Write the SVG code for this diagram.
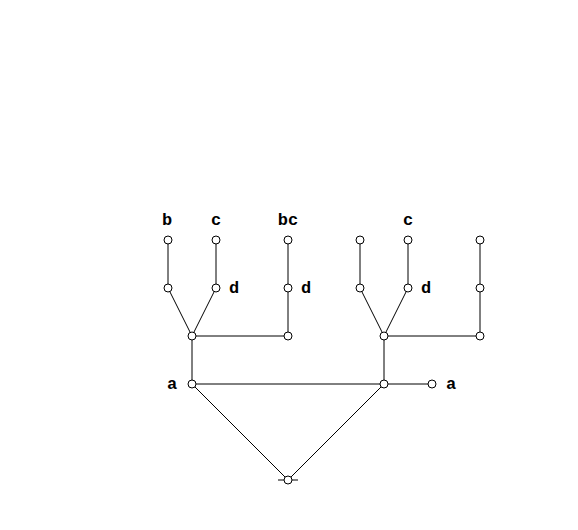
<svg xmlns="http://www.w3.org/2000/svg" width="578" height="530" viewBox="0 0 578 530">
<style>
.n{fill:#fff;stroke:#000;stroke-width:1}
.e{stroke:#000;stroke-width:1;fill:none}
.t{font-family:"Liberation Mono","Courier New",monospace;font-weight:bold;font-size:17px;fill:#000}
</style>
<rect width="578" height="530" fill="#fff"/>
<g id="connectors">
<line class="e" x1="168" y1="240" x2="168" y2="288"/>
<line class="e" x1="216" y1="240" x2="216" y2="288"/>
<line class="e" x1="168" y1="288" x2="192" y2="336"/>
<line class="e" x1="216" y1="288" x2="192" y2="336"/>
<line class="e" x1="288" y1="240" x2="288" y2="336"/>
<line class="e" x1="192" y1="336" x2="288" y2="336"/>
<line class="e" x1="192" y1="336" x2="192" y2="384"/>
<line class="e" x1="360" y1="240" x2="360" y2="288"/>
<line class="e" x1="408" y1="240" x2="408" y2="288"/>
<line class="e" x1="360" y1="288" x2="384" y2="336"/>
<line class="e" x1="408" y1="288" x2="384" y2="336"/>
<line class="e" x1="480" y1="240" x2="480" y2="336"/>
<line class="e" x1="384" y1="336" x2="480" y2="336"/>
<line class="e" x1="384" y1="336" x2="384" y2="384"/>
<line class="e" x1="192" y1="384" x2="384" y2="384"/>
<line class="e" x1="384" y1="384" x2="432" y2="384"/>
<line class="e" x1="192" y1="384" x2="288" y2="480"/>
<line class="e" x1="384" y1="384" x2="288" y2="480"/>
<line class="e" x1="278" y1="480" x2="298" y2="480"/>
</g>
<g id="n_b"><circle class="n" cx="168" cy="240" r="4"/><text class="t" x="167" y="225" text-anchor="middle">b</text></g>
<g id="n_c1"><circle class="n" cx="216" cy="240" r="4"/><text class="t" x="216" y="225" text-anchor="middle">c</text></g>
<g id="n_bc"><circle class="n" cx="288" cy="240" r="4"/><text class="t" x="288" y="225" text-anchor="middle">bc</text></g>
<g id="n_l1"><circle class="n" cx="168" cy="288" r="4"/></g>
<g id="n_d1"><circle class="n" cx="216" cy="288" r="4"/><text class="t" x="229" y="293">d</text></g>
<g id="n_d2"><circle class="n" cx="288" cy="288" r="4"/><text class="t" x="301" y="293">d</text></g>
<g id="n_h1"><circle class="n" cx="192" cy="336" r="4"/></g>
<g id="n_h1r"><circle class="n" cx="288" cy="336" r="4"/></g>
<g id="n_a1"><circle class="n" cx="192" cy="384" r="4"/><text class="t" x="167" y="389">a</text></g>
<g id="n_r1"><circle class="n" cx="360" cy="240" r="4"/></g>
<g id="n_c2"><circle class="n" cx="408" cy="240" r="4"/><text class="t" x="408" y="225" text-anchor="middle">c</text></g>
<g id="n_r3"><circle class="n" cx="480" cy="240" r="4"/></g>
<g id="n_r4"><circle class="n" cx="360" cy="288" r="4"/></g>
<g id="n_d3"><circle class="n" cx="408" cy="288" r="4"/><text class="t" x="421" y="293">d</text></g>
<g id="n_r6"><circle class="n" cx="480" cy="288" r="4"/></g>
<g id="n_h2"><circle class="n" cx="384" cy="336" r="4"/></g>
<g id="n_h2r"><circle class="n" cx="480" cy="336" r="4"/></g>
<g id="n_m"><circle class="n" cx="384" cy="384" r="4"/></g>
<g id="n_a2"><circle class="n" cx="432" cy="384" r="4"/><text class="t" x="446" y="389">a</text></g>
<g id="n_root"><circle class="n" cx="288" cy="480" r="4"/></g>
</svg>
